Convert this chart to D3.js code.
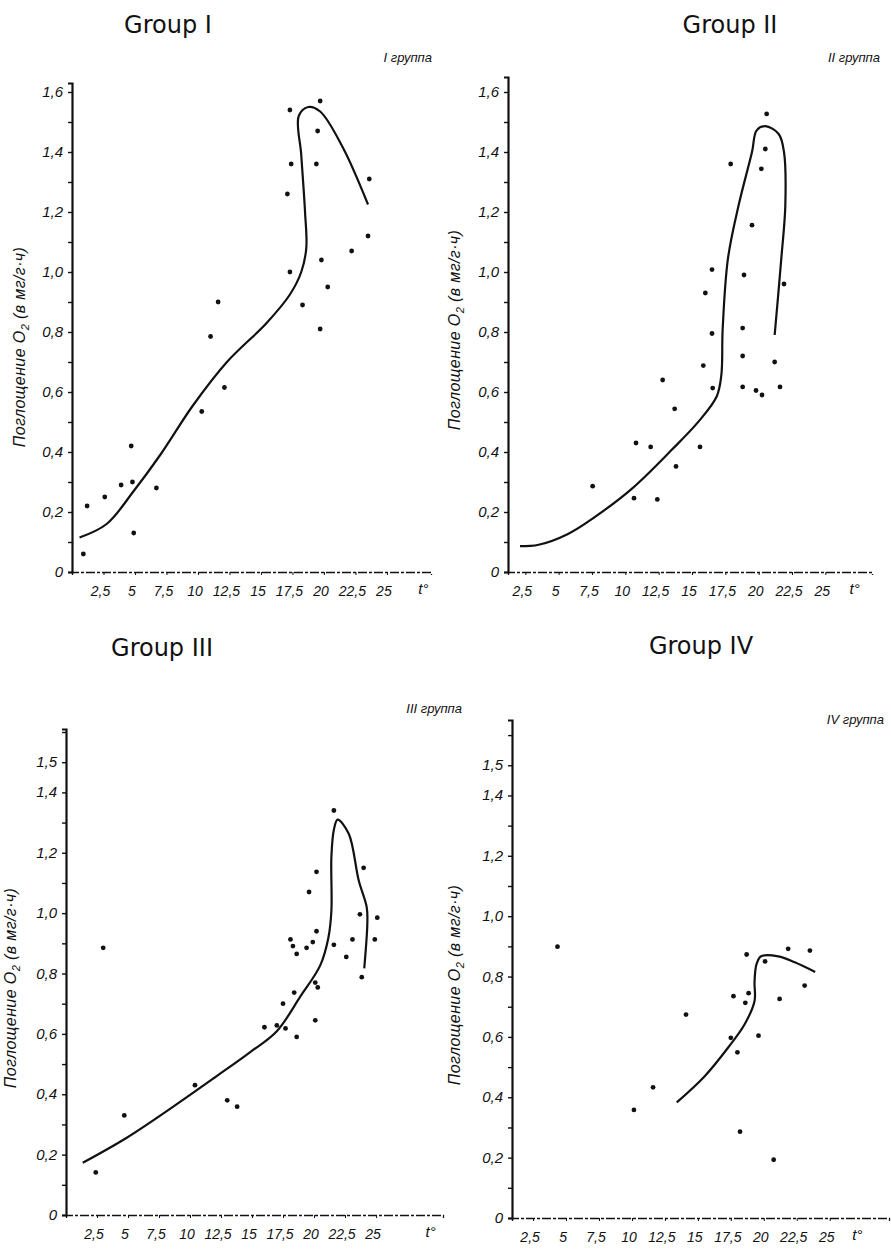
<!DOCTYPE html>
<html>
<head>
<meta charset="UTF-8">
<title>O2 uptake by group</title>
<script src="https://cdn.jsdelivr.net/npm/d3@7"></script>
<style>
  body { margin: 0; background: #fff; }
  text { fill: #111; }
  .title { font-family: "DejaVu Sans", sans-serif; font-size: 24px; }
  .sub, .tick, .ylab, .tunit { font-family: "Liberation Sans", Arial, sans-serif; font-style: italic; }
</style>
</head>
<body>
<svg width="891" height="1250"></svg>
<script>
// ---- data ----
var groupNames = ["Group I", "Group II", "Group III", "Group IV"];
var groupSubs = ["I группа", "II группа", "III группа", "IV группа"];
var xTicks = [2.5, 5, 7.5, 10, 12.5, 15, 17.5, 20, 22.5, 25];
var xTickLabels = ["2,5", "5", "7,5", "10", "12,5", "15", "17,5", "20", "22,5", "25"];
var yTicksTop = [0, 0.2, 0.4, 0.6, 0.8, 1.0, 1.2, 1.4, 1.6];
var yTicksBottom = [0, 0.2, 0.4, 0.6, 0.8, 1.0, 1.2, 1.4, 1.5];

// [t, O2]
var dotsI = [[0.9,0.06],[1.2,0.22],[2.6,0.25],[3.9,0.29],[4.8,0.30],[4.7,0.42],[4.9,0.13],[6.7,0.28],
  [10.3,0.535],[11.0,0.785],[11.6,0.90],[12.1,0.615],[17.1,1.26],[17.3,1.54],[17.4,1.36],[17.3,1.00],
  [18.3,0.89],[19.4,1.36],[19.5,1.47],[19.7,1.57],[19.8,1.04],[20.3,0.95],[19.7,0.81],[22.2,1.07],
  [23.5,1.12],[23.6,1.31]];
var curveI = [[0.6,0.115],[2.75,0.16],[4.9,0.27],[7.0,0.39],[9.6,0.555],[12.3,0.70],[15.45,0.83],
  [17.3,0.925],[18.2,1.0],[18.6,1.08],[18.5,1.20],[18.2,1.39],[18.0,1.52],[18.75,1.55],[19.7,1.535],
  [21.5,1.415],[23.5,1.225]];

var dotsII = [[7.55,0.286],[10.65,0.246],[10.8,0.43],[11.9,0.417],[12.4,0.242],[12.8,0.64],[13.7,0.544],
  [13.8,0.352],[15.6,0.417],[15.85,0.688],[16.0,0.93],[16.5,1.008],[16.5,0.795],[16.55,0.613],
  [17.9,1.36],[18.8,0.813],[18.8,0.72],[18.8,0.617],[18.9,0.99],[19.5,1.156],[19.8,0.605],[20.2,1.344],
  [20.25,0.59],[20.5,1.41],[20.6,1.527],[21.2,0.70],[21.6,0.617],[21.9,0.96]];
var curveII = [[2.1,0.086],[3.5,0.091],[5.7,0.127],[7.7,0.183],[10.5,0.278],[13.5,0.408],[15.5,0.502],
  [16.85,0.585],[17.2,0.656],[17.3,0.81],[17.7,1.046],[18.5,1.223],[19.5,1.40],[19.85,1.472],
  [20.5,1.486],[21.5,1.46],[21.9,1.40],[22.0,1.223],[21.7,1.046],[21.2,0.79]];

var dotsIII = [[2.4,0.141],[4.7,0.33],[3.0,0.885],[10.4,0.43],[13.0,0.38],[13.8,0.359],[16.0,0.622],
  [17.0,0.628],[17.7,0.618],[17.5,0.70],[18.4,0.737],[18.6,0.59],[18.1,0.913],[18.3,0.891],[18.6,0.865],
  [19.4,0.885],[19.6,1.07],[19.9,0.904],[20.2,1.137],[20.2,0.94],[20.1,0.77],[20.3,0.754],[20.1,0.645],
  [21.6,1.34],[21.6,0.895],[22.6,0.855],[23.1,0.913],[23.7,0.996],[24.0,1.15],[23.85,0.788],
  [24.9,0.913],[25.1,0.985]];
var curveIII = [[1.35,0.173],[4.9,0.256],[8.65,0.359],[12.15,0.46],[14.8,0.538],[17.0,0.609],
  [18.9,0.724],[20.5,0.827],[21.15,0.917],[21.4,1.007],[21.4,1.186],[21.6,1.276],[21.9,1.31],
  [22.8,1.263],[23.6,1.109],[24.25,1.019],[24.3,0.968],[24.05,0.817]];

var dotsIV = [[4.35,0.899],[10.15,0.358],[11.6,0.433],[14.1,0.674],[17.7,0.735],[17.5,0.597],[18.0,0.549],
  [18.7,0.873],[18.85,0.745],[18.6,0.713],[19.6,0.604],[20.1,0.85],[21.2,0.726],[21.85,0.892],
  [23.1,0.77],[23.5,0.886],[20.75,0.193],[18.2,0.286]];
var curveIV = [[13.4,0.383],[15.5,0.469],[17.3,0.565],[18.55,0.642],[19.3,0.719],[19.3,0.783],
  [19.45,0.841],[19.8,0.867],[21.1,0.867],[22.35,0.847],[23.9,0.815]];

// ---- layout of the four panels ----
var panels = [
  {name:groupNames[0], sub:groupSubs[0], dots:dotsI, curve:curveI, yt:yTicksTop,
   xd:[0,28.5], xr:[72,431], yd:[0,1.63], yr:[572,83], tx:[168,33], sx:[432,62], ylx:25, yly:347, unit:27.9},
  {name:groupNames[1], sub:groupSubs[1], dots:dotsII, curve:curveII, yt:yTicksTop,
   xd:[1.2,28.5], xr:[508,872], yd:[0,1.65], yr:[572,77], tx:[730,33], sx:[880,62], ylx:460, yly:330, unit:27.2},
  {name:groupNames[2], sub:groupSubs[2], dots:dotsIII, curve:curveIII, yt:yTicksBottom,
   xd:[0,30.4], xr:[66,443], yd:[0,1.61], yr:[1215,729], tx:[162,656], sx:[462,713], ylx:16, yly:988, unit:29.4},
  {name:groupNames[3], sub:groupSubs[3], dots:dotsIV, curve:curveIV, yt:yTicksBottom,
   xd:[0.9,29.5], xr:[512,889], yd:[0,1.65], yr:[1218,720], tx:[701,654], sx:[884,724], ylx:460, yly:985, unit:27.1}
];

var svg = d3.select("svg");
var fmt = function(d){ return d === 0 ? "0" : d.toFixed(1).replace(".", ","); };

panels.forEach(function(p){
  var x = d3.scaleLinear().domain(p.xd).range(p.xr);
  var y = d3.scaleLinear().domain(p.yd).range(p.yr);
  var g = svg.append("g");

  g.append("text").attr("class","title").attr("x",p.tx[0]).attr("y",p.tx[1])
    .attr("text-anchor","middle").text(p.name);
  g.append("text").attr("class","sub").attr("x",p.sx[0]).attr("y",p.sx[1])
    .attr("text-anchor","end").style("font-size","13px").text(p.sub);

  // y axis: ticks every 0.1, labels from the tick list
  var yAx = d3.axisLeft(y).tickValues(d3.range(0, 1.61, 0.1)).tickSize(4).tickFormat("");
  var ya = g.append("g").attr("transform","translate("+p.xr[0]+",0)").call(yAx);
  ya.select(".domain").attr("stroke","#111").attr("stroke-width",2.2);
  ya.selectAll(".tick line").attr("stroke","#111").attr("stroke-width",1.4);
  g.selectAll(".ylbl").data(p.yt).enter().append("text")
    .attr("class","tick").attr("x",p.xr[0]-9).attr("y",function(d){ return y(d)+5; })
    .attr("text-anchor","end").style("font-size","15px").text(fmt);

  // x axis
  var xAx = d3.axisBottom(x).tickValues(xTicks).tickSize(3).tickFormat("");
  var xa = g.append("g").attr("transform","translate(0,"+p.yr[0]+")").call(xAx);
  xa.select(".domain").attr("stroke","#111").attr("stroke-width",1.3).attr("stroke-dasharray","9,2,3,2");
  xa.selectAll(".tick line").attr("stroke","#111");
  g.selectAll(".xlbl").data(xTicks).enter().append("text")
    .attr("class","tick").attr("x",function(d){ return x(d)-3; }).attr("y",p.yr[0]+24)
    .attr("text-anchor","middle").style("font-size","14px")
    .text(function(d,i){ return xTickLabels[i]; });
  g.append("text").attr("class","tunit").attr("x",x(p.unit)).attr("y",p.yr[0]+22)
    .attr("text-anchor","middle").style("font-size","15px").text("t°");

  // y title
  var yt = g.append("text").attr("class","ylab")
    .attr("transform","translate("+p.ylx+","+p.yly+") rotate(-90)")
    .attr("text-anchor","middle").style("font-size","16px").style("letter-spacing","0.4px");
  yt.append("tspan").text("Поглощение O");
  yt.append("tspan").attr("dy",4).style("font-size","11px").text("2");
  yt.append("tspan").attr("dy",-4).text(" (в мг/г·ч)");

  // smoothed line
  var line = d3.line().x(function(d){ return x(d[0]); }).y(function(d){ return y(d[1]); })
    .curve(d3.curveCatmullRom.alpha(0.5));
  g.append("path").datum(p.curve).attr("d",line)
    .attr("fill","none").attr("stroke","#111").attr("stroke-width",2.2);

  // points
  g.selectAll(".pt").data(p.dots).enter().append("circle")
    .attr("cx",function(d){ return x(d[0]); }).attr("cy",function(d){ return y(d[1]); })
    .attr("r",2.4).attr("fill","#111");
});
</script>
</body>
</html>
